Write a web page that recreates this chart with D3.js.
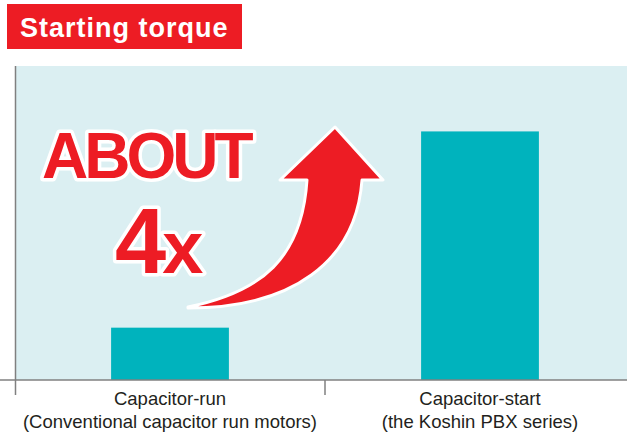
<!DOCTYPE html>
<html>
<head>
<meta charset="utf-8">
<script src="https://cdnjs.cloudflare.com/ajax/libs/d3/7.8.5/d3.min.js"></script>
<style>
  body { margin: 0; background: #fff; }
  text { font-family: "Liberation Sans", Arial, Helvetica, sans-serif; }
</style>
</head>
<body>
<div id="chart"></div>
<script>
const width = 627;
const height = 434;

// data
const categories = ["Capacitor-run", "Capacitor-start"];
const subLabels = ["(Conventional capacitor run motors)", "(the Koshin PBX series)"];
const torque = [1.0, 4.75];
const title = "Starting torque";

const red = "#ed1c24";
const teal = "#00b3bd";

const plot = {left: 16, top: 66, bottom: 380};

const svg = d3.select("#chart")
  .append("svg")
    .attr("width", width)
    .attr("height", height);

const x = d3.scaleBand()
  .domain(categories)
  .range([15, 635])
  .paddingInner(0.62)
  .paddingOuter(0.31);

const y = d3.scaleLinear()
  .domain([0, 6])
  .range([plot.bottom, plot.top]);

// plot background
svg.append("rect")
  .attr("x", plot.left)
  .attr("y", plot.top)
  .attr("width", width - plot.left)
  .attr("height", plot.bottom - plot.top)
  .attr("fill", "#dbeff2");

// bars
svg.selectAll(".bar")
  .data(torque)
  .enter()
  .append("rect")
  .attr("class", "bar")
  .attr("x", (d, i) => x(categories[i]))
  .attr("y", d => y(d))
  .attr("width", x.bandwidth())
  .attr("height", d => y(0) - y(d))
  .attr("fill", teal);

// axes
svg.append("line")
  .attr("x1", 15.5).attr("x2", 15.5)
  .attr("y1", plot.top).attr("y2", 395)
  .attr("stroke", "#808080").attr("stroke-width", 1.5);

svg.append("line")
  .attr("x1", 0).attr("x2", width)
  .attr("y1", plot.bottom).attr("y2", plot.bottom)
  .attr("stroke", "#808080").attr("stroke-width", 1.5);

// divider tick between the two categories
const midX = (x(categories[0]) + x(categories[1]) + x.bandwidth()) / 2;
svg.append("line")
  .attr("x1", midX).attr("x2", midX)
  .attr("y1", plot.bottom).attr("y2", 395)
  .attr("stroke", "#808080").attr("stroke-width", 1.5);

// category labels
const labels = svg.selectAll(".cat")
  .data(categories)
  .enter()
  .append("text")
  .attr("class", "cat")
  .attr("text-anchor", "middle")
  .attr("font-size", 18.5)
  .attr("fill", "#231f20");

labels.append("tspan")
  .attr("x", d => x(d) + x.bandwidth() / 2)
  .attr("y", 405)
  .text(d => d);

labels.append("tspan")
  .attr("x", d => x(d) + x.bandwidth() / 2)
  .attr("y", 428)
  .text((d, i) => subLabels[i]);

// title box
svg.append("rect")
  .attr("x", 7).attr("y", 4)
  .attr("width", 235).attr("height", 45)
  .attr("fill", red);

svg.append("text")
  .attr("x", 20).attr("y", 37)
  .attr("font-size", 27)
  .attr("font-weight", "bold")
  .attr("letter-spacing", 1)
  .attr("fill", "#fff")
  .text(title);

// curved arrow
svg.append("path")
  .attr("d", "M188,307 C262,292 302,258 307,180 L280,180 L335,127 L383,180 L362,180 C356,262 292,308 188,308 Z")
  .attr("fill", red)
  .attr("stroke", "#fff")
  .attr("stroke-width", 3)
  .attr("stroke-linejoin", "round");

// annotation text
const ann = svg.append("g")
  .attr("fill", red)
  .attr("stroke", "#fff")
  .attr("stroke-width", 7)
  .attr("stroke-linejoin", "round")
  .attr("paint-order", "stroke")
  .attr("font-weight", "bold");

ann.append("text")
  .attr("x", 42).attr("y", 178)
  .attr("font-size", 64)
  .attr("letter-spacing", -4)
  .text("ABOUT");

const fx = ann.append("text")
  .attr("x", 115).attr("y", 273);
fx.append("tspan").attr("font-size", 92).attr("letter-spacing", -4).text("4");
fx.append("tspan").attr("font-size", 74).text("x");
</script>
</body>
</html>
